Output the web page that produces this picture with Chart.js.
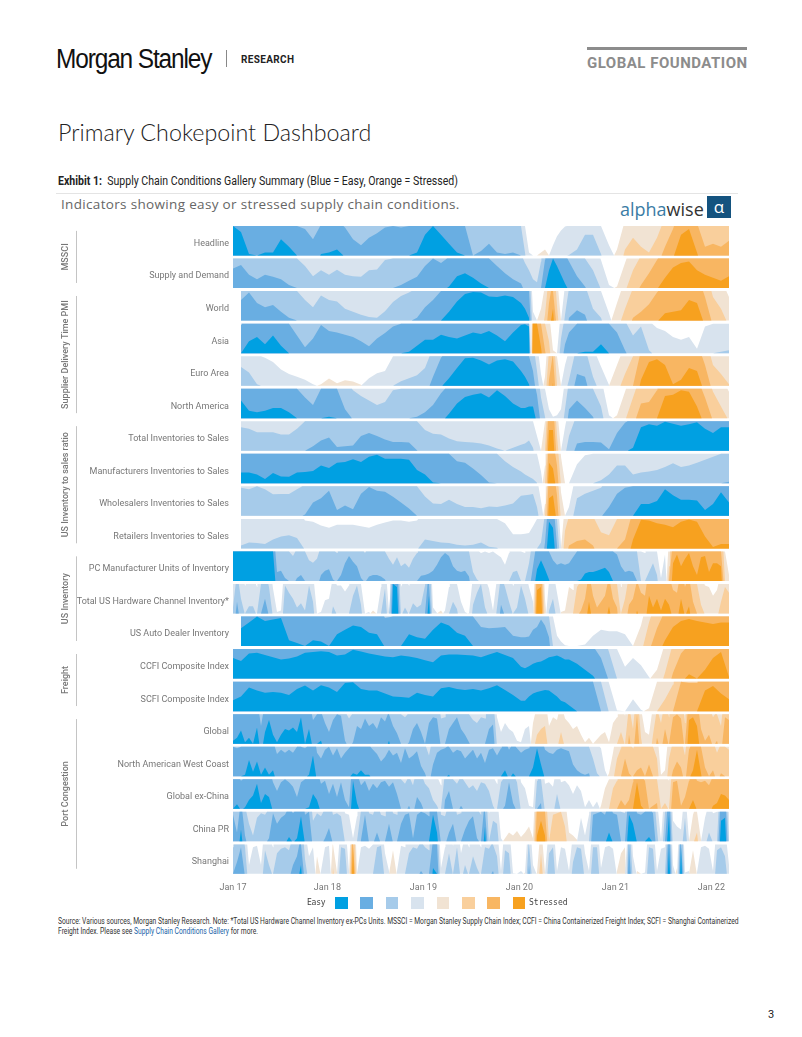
<!DOCTYPE html>
<html>
<head>
<meta charset="utf-8">
<title>Primary Chokepoint Dashboard</title>
<script src="https://cdn.jsdelivr.net/npm/chart.js@4"></script>
<style>
html, body { margin: 0; padding: 0; background: #fff; }
body { position: relative; width: 802px; height: 1037px; overflow: hidden; font-family: Roboto, sans-serif; color: #222; }
.abs { position: absolute; white-space: nowrap; line-height: 1; transform-origin: left top; }
#chartBox { position: absolute; left: 40px; top: 210px; width: 730px; height: 690px; }
.swatch { position: absolute; top: 897px; width: 12.5px; height: 12px; }
</style>
</head>
<body>
<div class="abs" style="left:56px;top:44px;font:27px 'Liberation Sans',sans-serif;letter-spacing:-1.25px;color:#111;transform:scaleX(.905)">Morgan Stanley</div>
<div class="abs" style="left:226px;top:50px;width:1px;height:17px;background:#888"></div>
<div class="abs" style="left:241px;top:54px;font:bold 10px Roboto,sans-serif;letter-spacing:.35px;color:#222">RESEARCH</div>
<div class="abs" style="left:587px;top:47px;width:160px;height:3px;background:#8c8c8c"></div>
<div class="abs" style="left:587px;top:54px;font:bold 15px Roboto,sans-serif;letter-spacing:.5px;color:#8c8c8c">GLOBAL FOUNDATION</div>
<div class="abs" style="left:58px;top:118px;font:300 23.3px Lato,sans-serif;color:#222">Primary Chokepoint Dashboard</div>
<div class="abs" style="left:58px;top:174px;font:12px Roboto,sans-serif;color:#222;transform:scaleX(.88)"><b>Exhibit 1:</b>&nbsp; Supply Chain Conditions Gallery Summary (Blue = Easy, Orange = Stressed)</div>
<div class="abs" style="left:56px;top:193px;width:682px;height:1px;background:#e4e4e4"></div>
<div class="abs" style="left:61px;top:195px;font:13.5px 'Open Sans',sans-serif;letter-spacing:.33px;color:#666">Indicators showing easy or stressed supply chain conditions.</div>
<div class="abs" style="left:620px;top:197px;font:18px 'Open Sans',sans-serif;color:#333"><span style="color:#3a7ca5">alpha</span>wise</div>
<div class="abs" style="left:707px;top:196px;width:24px;height:22px;background:#14537f;color:#fff;font:17px/22px 'Open Sans',sans-serif;text-align:center">α</div>

<div id="chartBox"><canvas id="horizon"></canvas></div>

<div class="abs" style="left:307px;top:898px;font:8px 'DejaVu Sans Mono',monospace;letter-spacing:-.2px;color:#444">Easy</div>
<div class="abs" style="left:529px;top:898px;font:8px 'DejaVu Sans Mono',monospace;color:#444">Stressed</div>
<div id="legendBox"></div>

<div class="abs" style="left:58px;top:917px;font:8.3px/9.5px Roboto,sans-serif;color:#333;white-space:normal;width:860px;transform:scaleX(.81)">Source: Various sources, Morgan Stanley Research. Note: *Total US Hardware Channel Inventory ex-PCs Units. MSSCI = Morgan Stanley Supply Chain Index; CCFI = China Containerized Freight Index; SCFI = Shanghai Containerized Freight Index. Please see <span style="color:#1a5fa8">Supply Chain Conditions Gallery</span> for more.</div>
<div class="abs" style="left:768px;top:1008px;font:11px Roboto,sans-serif;color:#222">3</div>

<script>
// months since Jan 17, finer around the Covid drop
const monthAxis = [
    0,1,2,3,4,5,6,7,8,9,10,11,12,13,14,15,16,17,18,19,20,21,22,23,24,25,26,27,28,29,30,31,32,33,34,35,36,
    36.5,37,37.5,38,38.5,39,39.5,40,40.5,41,41.5,42,
    43,44,45,46,47,48,49,50,51,52,53,54,55,56,57,58,59,60,61,62];
const halfMonthAxis = Array.from({ length: 125 }, (_, i) => i / 2);

const tickMonths = [0, 11.8, 23.8, 35.8, 47.8, 59.8];
const tickLabels = ["Jan 17", "Jan 18", "Jan 19", "Jan 20", "Jan 21", "Jan 22"];

const rowLabels = ["Headline", "Supply and Demand", "World", "Asia", "Euro Area", "North America",
    "Total Inventories to Sales", "Manufacturers Inventories to Sales", "Wholesalers Inventories to Sales", "Retailers Inventories to Sales",
    "PC Manufacturer Units of Inventory", "Total US Hardware Channel Inventory*", "US Auto Dealer Inventory",
    "CCFI Composite Index", "SCFI Composite Index",
    "Global", "North American West Coast", "Global ex-China", "China PR", "Shanghai"];

const groupNames = ["MSSCI", "Supplier Delivery Time PMI", "US Inventory to sales ratio", "US Inventory", "Freight", "Port Congestion"];
const groupFirstRow = [0, 2, 6, 10, 13, 15];
const groupLastRow = [1, 5, 9, 12, 14, 19];

// darkest band first
const easyColors = ["#00a0e2", "#69aee2", "#a6cbea", "#d8e3ee"];
const stressColors = ["#f7a11f", "#f8b662", "#f9cf9c", "#f1e3d3"];

// units: one unit = one horizon band, minus = easy, plus = stressed
const headline = [-4,-3.8,-3.05,-3,-3.1,-3.1,-3.55,-3.3,-3,-2.9,-2.55,-3.05,-3.1,-3.2,-2.95,-2.55,-2.35,-2.6,-2.75,-2.95,-3,-2.95,-3,-3.1,-3.7,-4,-3.7,-3.4,-3.1,-3,-2,-2.15,-2.4,-2.1,-2.05,-2.1,-2,
    -1.1,-.1,0,0,.1,.2,0,-.35,-.65,-.85,-.98,-1.02,
    -1.2,-1.7,-1.7,-1.05,-.35,.2,1.2,1.6,1.3,1.1,1.6,2.3,2.9,3.7,3.9,3.1,2.3,2.4,2.3,2.5];
const supplyDemand = [-2.66,-2.78,-2.45,-2.3,-2.45,-2.38,-2.3,-2.1,-2,-1.75,-1.4,-1.6,-1.45,-1.62,-1.45,-1.4,-1.38,-1.6,-1.63,-1.95,-2,-2.1,-2.25,-2.38,-2.75,-3,-2.85,-3.05,-3.4,-3.5,-3.35,-3.15,-3,-2.75,-2.5,-2.3,-2.15,
    -1.85,-1.6,-1.3,-1.2,-1.9,-2.95,-3.6,-4,-3.75,-3.45,-3.15,-2.9,
    -2.4,-2.05,-1.6,-.95,-.1,.05,.85,1.6,2.1,2.5,2.95,3.35,3.7,3.85,3.9,3.6,3.45,3.35,3.25,3.4];
const world = [null,-2.7,-2.95,-2.6,-2.45,-2.53,-2.3,-2.1,-2,-1.7,-1.45,-1.85,-1.7,-1.65,-1.4,-1.3,-1.2,-1.12,-1.1,-1.32,-1.63,-1.83,-1.95,-2.1,-2.45,-2.7,-3,-3.3,-3.65,-3.9,-3.97,-3.95,-3.82,-3.8,-3.85,-3.8,-3.6,
    -3.4,-3.1,-.3,0,.4,1.2,2.6,3.4,1.5,0,-1.2,-2.1,
    -2.35,-2.2,-1.4,-1.1,-.25,.6,1.4,2.1,2.3,2.55,2.95,3.25,3.3,3.35,3.7,3.6,2.8,1.8,1.4,.8];
const asia = [null,-2.95,-3.4,-3.55,-3.3,-3.6,-3.25,-3,-2.6,-2.2,-2.5,-2.95,-2.75,-2.7,-2.62,-2.55,-2.4,-2.23,-2.5,-2.68,-2.9,-3,-3.05,-3.25,-3.45,-3.45,-3.62,-3.55,-3.5,-3.6,-3.7,-3.65,-3.75,-3.6,-3.4,-3.7,-3.95,
    -3.98,-3.9,4,4,3.2,2.1,1.4,.1,0,-1.5,-2.3,-2.7,
    -3,-3.05,-3.05,-3.3,-3,-2.7,-2.1,-1.6,-1.9,-1.1,-.85,-.75,-.55,-.45,-.55,-.15,-.9,-1,-1.05,-1.1];
const euroArea = [null,-1.63,-1.45,-1.05,-.95,-.8,-.55,-.4,-.3,-.2,-.05,.05,.24,.08,.18,.14,.03,-.25,-.42,-.5,-1,-1.15,-1.25,-1.35,-1.6,-2.3,-2.95,-3.25,-3.6,-3.93,-3.95,-3.85,-3.72,-3.85,-3.9,-3.82,-3.5,
    -3.3,-3.05,-2.5,-1.5,-.4,.3,2.2,3.1,1,0,-.7,-1.2,
    -2.4,-2.3,-1.3,-.65,-.02,.7,1.4,2,3.2,3.8,3.9,3.7,3.05,3.2,3.6,3.5,2.7,1.7,1.4,1.05];
const northAmerica = [null,-3.6,-3.25,-3.2,-3.25,-3.35,-3.35,-3.2,-3,-2.7,-2.45,-3,-3.05,-3,-2.3,-1.95,-1.75,-1.6,-1.45,-1.55,-1.95,-2,-2,-2.05,-2.2,-2.45,-2.85,-3.15,-3.5,-3.72,-3.8,-3.85,-3.7,-3.95,-3.75,-3.5,-3.35,
    -3.35,-3.4,-3.4,-2.8,-1.7,-1.05,-.3,-.05,-.1,-.3,-1.3,-2.3,
    -2.6,-2.35,-2.05,-1.4,-.1,.1,.9,1.7,2.5,2.55,2.95,3.75,3.8,3.95,3.9,3.4,2.7,1.9,1.4,.9];
const totalInv = [null,-1.8,-1.75,-1.63,-1.63,-1.63,-1.55,-1.55,-1.75,-2,-2.15,-2.35,-2.45,-2.13,-2.15,-2.18,-2.5,-2.6,-2.5,-2.38,-2.3,-2.3,-2.28,-2.02,-1.7,-1.58,-1.55,-1.42,-1.32,-1.3,-1.28,-1.25,-1.18,-1.08,-1,-1.1,-1.2,
    -1.25,-1.35,-1.1,-.5,0,1,3.7,3.7,1.5,0,-.8,-1.5,
    -2.25,-2.3,-2.3,-2.28,-2.05,-2.6,-2.95,-3.1,-3.8,-3.9,-3.85,-3.98,-3.92,-3.85,-3.9,-3.97,-3.75,-3.6,-3.8,-3.8];
const manufacturersInv = [null,-3.37,-3.37,-3.3,-3.15,-3.35,-3.23,-3.22,-3.37,-3.38,-3.42,-3.6,-3.52,-3.7,-3.72,-3.82,-3.72,-3.9,-3.97,-3.83,-3.83,-3.83,-3.8,-3.45,-3.3,-3.03,-3,-3,-2.75,-2.7,-2.5,-2.28,-2.03,-2,-1.75,-1.55,-1.4,
    -1.3,-1.22,-1.15,-1.02,-.4,.6,3.7,3.5,2.6,.9,0,0,
    -.65,-.95,-1,-1.1,-1.3,-1.6,-1.6,-1.3,-1.37,-1.4,-1.45,-1.55,-1.68,-1.55,-1.6,-1.7,-1.8,-1.9,-2,-2.05];
const wholesalersInv = [null,-1.95,-1.9,-2,-1.9,-1.73,-1.74,-1.74,-1.9,-2.05,-2.45,-2.6,-2.85,-2.2,-2.35,-2.22,-2.75,-2.98,-2.85,-2.82,-2.65,-2.45,-2.25,-2,-1.66,-1.42,-1.4,-1.55,-1.4,-1.3,-1.3,-1.26,-1.32,-1.3,-1.35,-1.42,-1.68,
    -1.7,-1.72,-1.74,-1.3,-.5,.4,3.6,3.7,2.7,.8,0,-.3,
    -1.6,-1.75,-1.85,-1.95,-2.3,-2.75,-2.95,-3,-3.4,-3.4,-3.5,-3.9,-3.7,-3.55,-3.55,-3.52,-3.2,-3.4,-3.8,-3.45];
const retailersInv = [null,-1.1,-1.2,-1.18,-1.15,-1.3,-1.4,-1.45,-1.35,-.95,-.9,-.78,-.7,-.8,-.8,-.8,-.75,-.7,-.8,-.88,-.95,-.95,-.9,-.95,-1.3,-1.25,-1.2,-1.18,-1.12,-1.1,-1.12,-1.2,-1.06,-1.02,-.85,-.48,-.48,
    -.5,-.52,-.75,-1,-1.2,-2.2,-3.9,-3.7,-2.1,-.1,1.6,2.1,
    2.25,2.3,2.1,1.55,1.45,2,2.3,3.3,3.97,3.95,3.85,3.8,3.72,3.9,3.98,3.9,3.4,3.05,3.15,3.15];
const pcManufacturer = [-4,-4,-4,-4,-4,-4,-4,-4,-4,-4,
    -4,-2.3,-2.35,-2.1,-2,-1.85,-2.1,-2.2,-2,-1.7,
    -1.62,-1.75,-2.2,-2.35,-2.4,-2.05,-1.95,-2.2,-2.6,-2.85,
    -2.65,-2.5,-2.1,-1.95,-2.15,-2.2,-2.2,-2.15,-2.05,-1.75,
    -1.55,-1.8,-1.5,-1.6,-1.45,-1.75,-1.95,-2.18,-2.2,-2.25,
    -2.35,-2.55,-2.8,-2.95,-2.85,-2.5,-2.35,-2.3,-2.35,-2.15,
    -1.3,-1.05,-.95,-1,-.95,-1,-.9,-.8,-.55,-.95,
    -1.3,-1.35,-1,-.95,-1.6,-2.5,-3.4,-3.7,-3.4,-3.05,
    -2.7,-2.55,-2.6,-2.55,-2.6,-2.8,-3,-3.05,-3.25,-3.3,
    -3.3,-3.35,-3.4,-3.45,-3.3,-3,-2.9,-2.5,-2.3,-2.35,
    -2.3,-2,-1,-.95,-1.3,-1.6,-1.2,-.1,-.9,1.5,
    3.6,3.9,3.5,3.75,3.95,3.5,3.2,3.8,3.85,3.3,
    3.6,3.6,3.5,1,.2];
const usHardware = [-1.2,-2.4,-1.5,-.95,-1.25,-1.25,-.9,-2,-2.5,-1.9,
    -.85,-.05,-.1,-1.95,-1.7,-1.5,-1.2,-1.35,-1.1,-1.95,
    -1.4,0,-.05,-.45,-.5,-1.25,-.95,-.95,-.75,-.95,
    -1.6,-1.95,-1.3,0,-.05,.1,-.02,-.9,-1.85,-.05,
    -4,-3.9,-.9,-1.2,-.95,-1.35,-1.2,-1.3,-1.95,-3.6,
    -.2,-.02,.1,-.1,-.9,-1.4,-1.15,-.4,-.05,.02,
    -1.3,-1.7,-2,-1.2,-.85,-.1,-1.2,-2.3,-1.9,-1.4,
    -.95,-1.2,-1.95,-1.5,-.9,-.4,3.8,3.9,.5,-1.1,
    -1.5,-.7,.05,.1,.9,.8,1.9,2.1,2.5,3.4,
    2.6,2.2,2.4,2.6,3.25,2.5,2.2,.9,1.5,2.3,
    2.5,3.1,2.7,2.6,3.6,3.2,3.5,3.1,3.5,3.3,
    2.8,2.7,3.5,2.9,3.25,2.4,2,1.3,.95,.9,
    .6,.8,1.4,1.9,1.7];
const usAuto = [null,-3.6,-3.8,-4,-3.85,-3.9,-3.95,-3.2,-3.1,-3,-3.2,-3.15,-3,-3.4,-3.55,-3.7,-3.65,-3.45,-3.4,-2.95,-3,-3,-3.4,-3.3,-3.25,-3.55,-3.8,-3.7,-3.45,-3.35,-3,-2.65,-2.6,-2.62,-2.65,-2.35,-2.3,
    -2.3,-2.32,-2.55,-2.65,-2.9,-2.7,-2.3,-1,-.35,-.15,-.03,0,
    0,-.05,-.35,-.55,-.5,-.5,-.4,0,.7,1.8,2.6,3.2,3.65,3.85,3.92,3.85,3.8,3.75,3.8,3.8];
const ccfi = [-3.7,-3.6,-3.85,-3.88,-3.8,-3.72,-3.65,-3.68,-3.75,-3.88,-3.9,-3.93,-3.9,-3.78,-3.82,-3.98,-3.92,-3.85,-3.8,-3.75,-3.72,-3.78,-3.75,-3.7,-3.62,-3.55,-3.78,-3.82,-3.82,-3.8,-3.78,-3.72,-3.82,-3.9,-3.8,-3.7,-3.4,
    -3.35,-3.42,-3.5,-3.55,-3.58,-3.65,-3.72,-3.75,-3.78,-3.72,-3.65,-3.65,
    -3.5,-3.3,-3.1,-2.7,-1.9,-1,-.4,-.7,-.45,-.05,.3,1.2,2.2,2.85,3.15,3,3.3,3.7,3.9,3.05];
const scfi = [-3.37,-3.5,-3.8,-3.7,-3.62,-3.65,-3.62,-3.55,-3.75,-3.87,-3.7,-3.88,-3.8,-3.65,-3.95,-3.98,-3.75,-3.7,-3.7,-3.6,-3.5,-3.48,-3.45,-3.62,-3.55,-3.5,-3.78,-3.82,-3.75,-3.72,-3.75,-3.7,-3.78,-3.88,-3.72,-3.55,-3.35,
    -3.35,-3.5,-3.6,-3.65,-3.68,-3.72,-3.7,-3.6,-3.5,-3.35,-3.3,-3.2,
    -3,-3,-3,-2,-.95,-.02,0,-.4,-.05,.1,1,1.4,1.9,3,2.95,2.95,3.7,3.85,3.6,3.4];
const portGlobal = [-3.1,-3.2,-3.45,-3.05,-3.2,-3,-3.55,-2.6,-3.4,-3.8,
    -3.3,-3.05,-3.3,-3.5,-3.45,-3.55,-3.4,-3.9,-3,-3.5,
    -2.8,-3,-3.1,-2.7,-2.4,-2.8,-3,-2.95,-2.1,-1.85,
    -2.05,-2.6,-2.5,-2.85,-2.6,-2.7,-2.5,-2.9,-2.75,-3.1,
    -2.6,-2.35,-2,-1.9,-2.05,-2.5,-2.7,-2.4,-2,-2.7,
    -2.9,-2.85,-1.85,-1.9,-2.5,-2.7,-2.9,-2.5,-2.3,-2.05,
    -1.8,-1.7,-1.9,-1.85,-2.5,-2.65,-.9,-.4,-.7,-.5,
    -.4,-.1,-.05,-.5,-.6,.7,1.3,1.5,1.6,.6,
    .9,.8,1.4,.85,.7,.5,.6,.3,.05,.2,
    0,.15,.3,.4,.05,.7,.9,1.4,.95,2.3,
    1.5,3,1.2,.4,.3,1.3,2.2,1.7,2.5,1.9,
    2.9,3,2.85,1.7,3.8,3.9,3.6,2.5,2.1,2.3,
    1.9,2.1,1.6,2.9,2.8];
const portWestCoast = [-3,-2.95,-3,-3.05,-3.55,-3.15,-3.5,-3.05,-3.3,-3.05,
    -3.2,-2.75,-2.9,-2.8,-2.9,-2.8,-3,-3,-2.95,-3.05,
    -3.7,-2.8,-2.6,-2.9,-3,-2.7,-2.95,-2.6,-2.8,-2.95,
    -3.1,-3.05,-3.2,-3.05,-3.05,-2.9,-2.75,-2.5,-2.65,-2.9,
    -2.7,-2.8,-2.45,-2.95,-2.6,-2.7,-2.85,-2.35,-2.1,-1.7,
    -2.4,-2.8,-2.9,-2.95,-3.05,-2.8,-2.9,-2.85,-2.6,-2.75,
    -2.9,-2.6,-2.8,-2.45,-2.9,-2.95,-2.7,-2.95,-3.2,-2.9,
    -3.1,-2.95,-2.8,-2.9,-2.95,-3.3,-3.95,-3.4,-2.9,-2.8,
    -2.75,-2.9,-2.95,-2.9,-2.85,-2.4,-2.2,-2.1,-2.05,-2.1,
    -1.6,-1.1,-.95,-.2,.1,.8,1.6,1.95,2.6,2.1,
    1.95,2.2,2.3,2,2.4,2,1.6,.05,.2,1.6,
    2.2,2.5,2.3,1.7,2.9,3.2,3.9,3.1,2.3,2,
    2.2,1.8,2.1,2,1.9];
const portExChina = [-3,-3.15,-2.95,-3.05,-3.3,-3.45,-3.85,-3.2,-3.5,-3.4,
    -2.9,-2.6,-2.9,-3,-2.9,-2.75,-2.4,-2.9,-3,-3.05,
    -3.5,-3.3,-2.85,-2.95,-2.5,-2.85,-2.4,-2.9,-2.3,-2.05,
    -3.95,-3.2,-2.8,-2.95,-2.6,-2.85,-2.7,-2.9,-2.95,-2.75,
    -2.9,-2.5,-2,-1.85,-2.1,-1.8,-2.4,-2.2,-1.85,-1.7,
    -1.3,-1.1,-.8,-2.3,-2.6,-2,-1.85,-2.1,-1.9,-1.7,
    -1.8,-1.6,-1.9,-1.85,-1.6,-1.1,-.85,-1.9,-2.1,-2.9,
    -2.2,-1.9,-.9,-.7,-.1,-.05,-1.95,-2.2,-.85,-.9,
    -.75,-1.5,-.9,-.95,-.8,-.5,-.8,-.6,-.05,-.3,
    -.05,-.25,.1,.7,1,1.7,1.95,2.3,2.1,2.3,
    2.9,3.9,3.1,2.95,2,2.1,2.2,1,1.2,.95,
    2.9,2.95,2.1,2.4,2.95,3.3,2.95,2.9,2.95,2.8,
    3.1,3.2,3.5,3.45,3.3];
const portChina = [-2.9,-2.3,-3.4,-2.2,-1.6,-1.2,-1.8,-1.95,-1.9,-2.1,
    -2.95,-2.6,-2.8,-2.9,-3.15,-2.95,-3.1,-3.85,-2.9,-3,
    -1.7,-1.95,-1.85,-2.1,-2.45,-1.9,-1.95,-1.85,-.95,-.9,
    -.1,-.85,-2.05,-2.9,-1.95,-1.9,-2.3,-1.9,-1.85,-2.6,
    -1.95,-1.9,-2.6,-2.9,-2.95,-2.1,-2.9,-3,-2.95,-2.85,
    -3.9,-3.3,-1.9,-1.85,-2.3,-2.6,-1.9,-1.95,-2.4,-2.7,
    -2.85,-2.1,-1.9,-3.5,-.95,-1.7,-1.6,-.1,.1,.3,
    .2,.35,.15,.3,.5,.1,3.2,3.7,3.2,1,
    1.9,1.95,2,1.5,.3,.2,.05,-.8,-.2,-.9,
    -2.9,-2.95,-3,-2.9,-3.3,-2.95,-2.9,-2,-1.95,-3.9,
    -3.6,-2.95,-2.9,-3,-3.15,-2.95,-1.4,-.05,-2,-3.9,
    -.7,-.5,-.4,-1.8,-.05,.9,1.3,.05,-.8,-1.3,
    -.95,-1,-3.7,-3.8,-.9];
const portShanghai = [-1.9,-2.4,-2.9,-1.9,-.3,-.9,-.95,-.3,-1.8,-1.3,
    -.9,-1.7,-1.85,-1.9,-1.8,-2.3,-2.6,-3.3,-1.5,-.6,
    -.9,.6,-.1,-.9,-.95,1.2,.05,-1.9,-1.85,-.1,
    3.9,.1,-.9,-.95,-.85,-1,-1.9,-1.95,-.7,-.1,
    .8,-.1,-.95,-.9,-1.7,-1.9,-1.85,-2.1,-1.9,-1.8,
    -3.2,-3,-.2,-.9,-1.7,-.95,-1.9,-.7,-1.3,-.9,
    -1.6,-1.2,-.9,-1.9,-1.85,-2.1,-1.6,-.1,-1.8,-1.7,
    -.02,0,-.1,.05,-2.3,-.3,.05,1.7,.05,-1.7,
    -1.9,-.1,-.9,-.85,-.1,-1.4,-1.9,-1.85,-.7,-.1,
    -1.9,-1.9,-.2,-.9,-.95,-.85,.1,.7,.9,-3.1,
    -.6,.1,0,-.05,-1.9,-1.85,-.1,-.85,-.9,-3.9,
    -.3,.2,-3.9,-.05,-.1,.8,-.05,-.9,-.95,-.85,
    -.1,-1.8,-1.9,-1.6,-.3];

const rowSeries = [headline, supplyDemand, world, asia, euroArea, northAmerica,
    totalInv, manufacturersInv, wholesalersInv, retailersInv,
    pcManufacturer, usHardware, usAuto, ccfi, scfi,
    portGlobal, portWestCoast, portExChina, portChina, portShanghai];

const BAND_HEIGHT = 0.906; // of one row pitch, the rest is the white gap
const ROW_SPAN = 19.91;
const LABEL_DROP = 0.09; // row labels sit a little under the band centre

function clamp01(v) {
    return Math.max(0, Math.min(1, v));
}

// one horizon band of a row, with extra points where the line crosses the band edges
function bandPoints(months, series, row, sign, band) {
    const points = [];
    const add = (x, s) => points.push({ x, y: row + BAND_HEIGHT * (1 - clamp01(s - band)) });
    for (let i = 0; i < series.length; i++) {
        if (series[i] === null) continue;
        const s0 = sign * series[i];
        add(months[i], s0);
        if (i + 1 === series.length) break;
        const s1 = sign * series[i + 1];
        const cuts = [];
        for (const edge of [band, band + 1]) {
            if ((s0 - edge) * (s1 - edge) < 0) cuts.push((edge - s0) / (s1 - s0));
        }
        cuts.sort((a, b) => a - b).forEach((t) => add(months[i] + t * (months[i + 1] - months[i]), s0 + t * (s1 - s0)));
    }
    return points;
}

function buildDatasets() {
    const datasets = [];
    rowSeries.forEach((series, row) => {
        const months = series.length === monthAxis.length ? monthAxis : halfMonthAxis;
        for (let band = 3; band >= 0; band--) {
            [[-1, easyColors], [1, stressColors]].forEach(([sign, colors]) => {
                if (!series.some((v) => v !== null && sign * v > band)) return;
                datasets.push({
                    label: `${rowLabels[row]} ${sign < 0 ? "easy" : "stressed"} ${band + 1}`,
                    data: bandPoints(months, series, row, sign, band),
                    backgroundColor: colors[3 - band],
                    borderWidth: 0,
                    pointRadius: 0,
                    tension: 0,
                    fill: { value: row + BAND_HEIGHT },
                });
            });
        }
    });
    return datasets;
}

// section names and rules to the left of the row labels
const rowGroupsPlugin = {
    id: "rowGroups",
    afterDraw(chart) {
        const { ctx, scales } = chart;
        ctx.save();
        groupNames.forEach((name, i) => {
            const top = scales.y.getPixelForValue(groupFirstRow[i] + 0.15);
            const bottom = scales.y.getPixelForValue(groupLastRow[i] + 0.75);
            ctx.strokeStyle = "#c4c4c4";
            ctx.lineWidth = 1;
            ctx.beginPath();
            ctx.moveTo(36.5, top);
            ctx.lineTo(36.5, bottom);
            ctx.stroke();
            ctx.save();
            ctx.translate(26, (top + bottom) / 2);
            ctx.rotate(-Math.PI / 2);
            ctx.fillStyle = "#777";
            ctx.font = "500 9px Roboto, sans-serif";
            ctx.textAlign = "center";
            ctx.textBaseline = "middle";
            ctx.fillText(name, 0, 0);
            ctx.restore();
        });
        ctx.restore();
    },
};

function drawLegend() {
    const box = document.getElementById("legendBox");
    const colors = [...easyColors, ...[...stressColors].reverse()];
    colors.forEach((color, i) => {
        const swatch = document.createElement("div");
        swatch.className = "swatch";
        swatch.style.left = `${335 + i * 25.4}px`;
        swatch.style.background = color;
        box.appendChild(swatch);
    });
}

Chart.defaults.font.family = "Roboto, sans-serif";

new Chart(document.getElementById("horizon"), {
    type: "line",
    data: { datasets: buildDatasets() },
    plugins: [rowGroupsPlugin],
    options: {
        responsive: true,
        maintainAspectRatio: false,
        animation: false,
        layout: { padding: { top: 16, right: 41, bottom: 0, left: 0 } },
        plugins: { legend: { display: false }, tooltip: { enabled: false } },
        scales: {
            x: {
                type: "linear",
                min: 0,
                max: 62,
                grid: { display: false },
                border: { display: false },
                afterFit(scale) { scale.height = 26; },
                afterBuildTicks(scale) { scale.ticks = tickMonths.map((value) => ({ value })); },
                ticks: {
                    autoSkip: false,
                    maxRotation: 0,
                    padding: 0,
                    color: "#777",
                    font: { size: 9 },
                    callback: (value) => tickLabels[tickMonths.indexOf(value)],
                },
            },
            y: {
                type: "linear",
                reverse: true,
                min: 0,
                max: ROW_SPAN,
                grid: { display: false, tickLength: 0 },
                border: { display: false },
                afterFit(scale) { scale.width = 193; },
                afterBuildTicks(scale) { scale.ticks = rowLabels.map((_, row) => ({ value: row + BAND_HEIGHT / 2 + LABEL_DROP })); },
                ticks: {
                    autoSkip: false,
                    padding: 4,
                    color: "#777",
                    font: { size: 9 },
                    callback: (value) => rowLabels[Math.round(value - BAND_HEIGHT / 2 - LABEL_DROP)],
                },
            },
        },
    },
});

drawLegend();
</script>
</body>
</html>
